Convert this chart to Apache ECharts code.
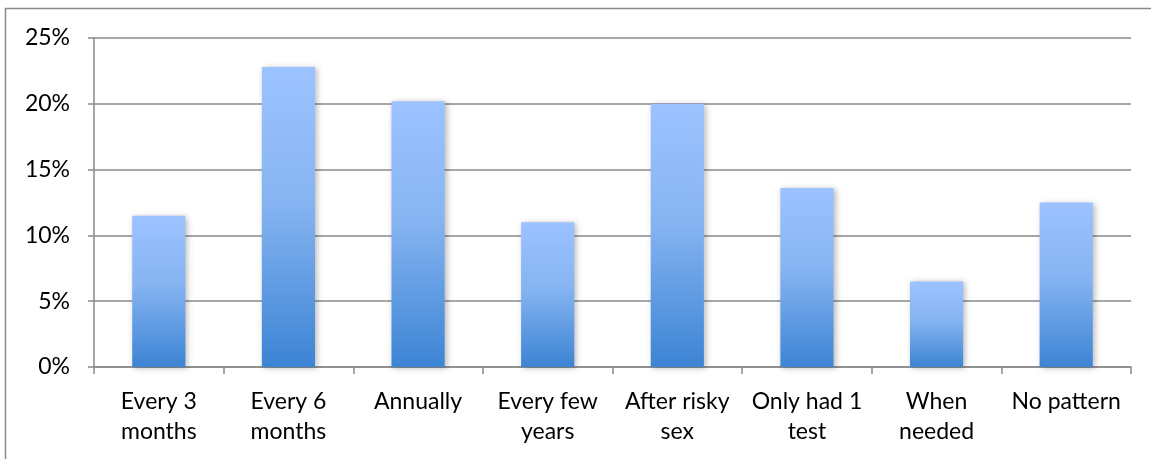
<!DOCTYPE html>
<html>
<head>
<meta charset="utf-8">
<script src="https://cdn.jsdelivr.net/npm/echarts@6/dist/echarts.min.js"></script>
<style>
  html, body { margin: 0; padding: 0; background: #fff; }
  #chart { width: 1151px; height: 459px; }
</style>
</head>
<body>
<div id="chart"></div>
<script>
// HIV testing frequency: share of respondents per pattern
const categories = [
  'Every 3\nmonths', 'Every 6\nmonths', 'Annually', 'Every few\nyears',
  'After risky\nsex', 'Only had 1\ntest', 'When\nneeded', 'No pattern'
];
const shares = [11.5, 22.8, 20.2, 11.0, 20.0, 13.6, 6.5, 12.5];
const yTicks = [0, 5, 10, 15, 20, 25];

const chart = echarts.init(document.getElementById('chart'), null, { renderer: 'canvas' });
const axisGray = '#8a8a8a';
const font = 'Lato, "Open Sans", sans-serif';

chart.setOption({
  animation: false,
  graphic: [{
    type: 'rect',
    shape: { x: 5.5, y: 8.5, width: 1300, height: 600 },
    style: { fill: 'none', stroke: '#8a8a8a', lineWidth: 1.5 },
    silent: true
  }],
  grid: { left: 94, right: 20, top: 38, bottom: 92, containLabel: false },
  xAxis: {
    type: 'category',
    data: categories,
    axisLine: { lineStyle: { color: axisGray, width: 1.5 } },
    axisTick: { show: true, length: 7, alignWithLabel: false, lineStyle: { color: axisGray, width: 1.5 } },
    axisLabel: { color: '#000', fontFamily: font, fontSize: 23, lineHeight: 30, margin: 20, interval: 0 }
  },
  yAxis: {
    type: 'value',
    min: yTicks[0],
    max: yTicks[yTicks.length - 1],
    interval: 5,
    axisLine: { show: true, lineStyle: { color: axisGray, width: 1.5 } },
    axisTick: { show: true, length: 6, lineStyle: { color: axisGray, width: 1.5 } },
    splitLine: { lineStyle: { color: axisGray, width: 1.5 } },
    axisLabel: { color: '#000', fontFamily: font, fontSize: 23, margin: 24, formatter: v => v + '%' }
  },
  series: [{
    type: 'bar',
    data: shares,
    barWidth: '41%',
    itemStyle: {
      color: new echarts.graphic.LinearGradient(0, 0, 0, 1, [
        { offset: 0, color: '#9cc3ff' },
        { offset: 0.45, color: '#86b4f2' },
        { offset: 1, color: '#3c84d4' }
      ]),
      shadowColor: 'rgba(0,0,0,0.28)',
      shadowBlur: 6,
      shadowOffsetX: 2,
      shadowOffsetY: 1
    }
  }]
});
</script>
</body>
</html>
